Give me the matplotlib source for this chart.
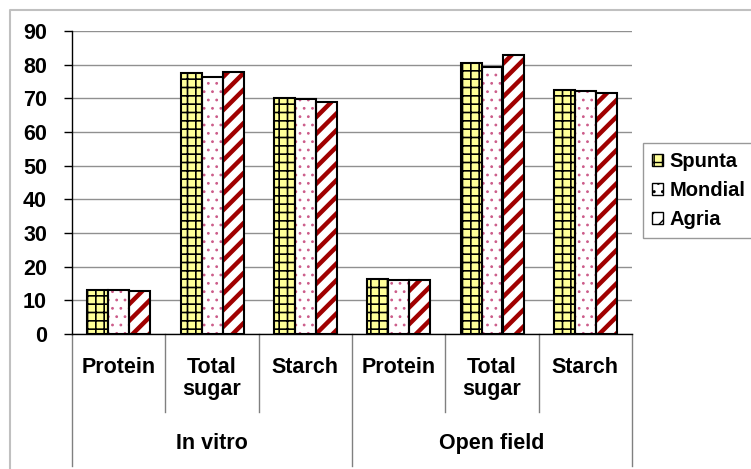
import numpy as np
import matplotlib
matplotlib.use('Agg')
import matplotlib.pyplot as plt
from matplotlib.patches import Patch
from matplotlib.lines import Line2D

# data
groups = ['In vitro', 'Open field']
categories = ['Protein', 'Total\nsugar', 'Starch', 'Protein', 'Total\nsugar', 'Starch']
series = ['Spunta', 'Mondial', 'Agria']
spunta = [13.1, 77.6, 70.0, 16.3, 80.6, 72.5]
mondial = [13.1, 76.4, 69.7, 16.1, 79.4, 72.3]
agria = [12.9, 77.8, 69.0, 15.9, 82.8, 71.7]
yticks = [0, 10, 20, 30, 40, 50, 60, 70, 80, 90]

plt.rcParams['font.family'] = ['Liberation Sans', 'DejaVu Sans']
plt.rcParams['font.weight'] = 'bold'

fig = plt.figure(figsize=(7.51, 4.69), dpi=100)
ax = fig.add_axes([72/751, 1-334/469, 560/751, 303/469])

# fill colour, hatch, hatch colour, hatch linewidth
styles = [('#FFFF99', '++', 'black', 1.2),
          ('white', '..', '#CC5C8A', 0.8),
          ('white', '//', '#A00000', 3.2)]
values = [spunta, mondial, agria]
x = np.arange(len(categories))
w = 0.225
for i, (vals, st) in enumerate(zip(values, styles)):
    fc, hatch, hc, hlw = st
    with plt.rc_context({'hatch.linewidth': hlw}):
        ax.bar(x + (i-1)*w, vals, w, color=fc, hatch=hatch, edgecolor=hc, linewidth=0, zorder=2)
    ax.bar(x + (i-1)*w, vals, w, fill=False, edgecolor='black', linewidth=1.5, zorder=3)

ax.set_xlim(-0.5, 5.5)
ax.set_ylim(0, 90)
ax.set_yticks(yticks)
ax.tick_params(axis='y', labelsize=15.5, length=6, width=1, pad=12)
ax.set_xticks([])
ax.yaxis.grid(True, color='#909090', linewidth=1)
ax.set_axisbelow(True)
for s in ['top', 'right']:
    ax.spines[s].set_visible(False)
ax.spines['left'].set_linewidth(1)
ax.spines['bottom'].set_linewidth(1)

# multi level x labels
tr = ax.get_xaxis_transform()
for i, c in enumerate(categories):
    ax.text(i, -0.075, c, transform=tr, ha='center', va='top', fontsize=15.5,
            fontweight='bold', linespacing=1.05)
for j, g in enumerate(groups):
    ax.text(j*3 + 1, -0.36, g, transform=tr, ha='center', va='center', fontsize=15.5,
            fontweight='bold')
for b in [0.5, 1.5, 3.5, 4.5]:
    ax.plot([b, b], [0, -0.257], transform=tr, color='#808080', lw=1, clip_on=False)
for b in [-0.5, 2.5, 5.5]:
    ax.plot([b, b], [0, -0.436], transform=tr, color='#808080', lw=1, clip_on=False)

# legend
handles = []
for st in styles:
    fc, hatch, hc, hlw = st
    handles.append(Patch(facecolor=fc, edgecolor='black', hatch=hatch, linewidth=1))
leg = fig.legend(handles, series, loc='upper left', bbox_to_anchor=(643/751, 1-143/469),
                 fontsize=14.5, frameon=True, fancybox=False, edgecolor='#808080',
                 handlelength=0.55, handleheight=0.55, handletextpad=0.3,
                 labelspacing=0.5, borderpad=0.45, borderaxespad=0)
leg.get_frame().set_linewidth(1)

# chart border
fig.add_artist(Line2D([10/751, 10/751, 1], [0, 1-10/469, 1-10/469],
                      transform=fig.transFigure, color='#C0C0C0', lw=1.5))

fig.savefig('out.png', dpi=100)
